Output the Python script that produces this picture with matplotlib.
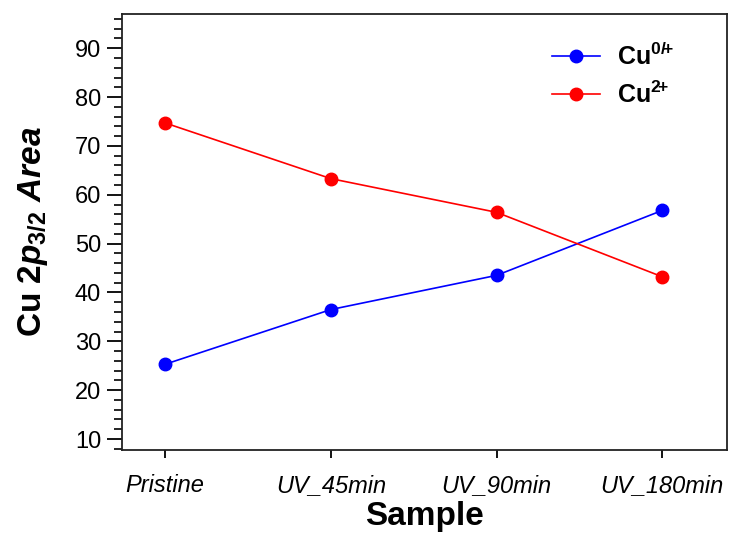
import matplotlib.pyplot as plt
from matplotlib.ticker import MultipleLocator

plt.rcParams['font.family'] = 'Liberation Sans'
plt.rcParams['mathtext.fontset'] = 'custom'
plt.rcParams['mathtext.rm'] = 'Liberation Sans:bold'
plt.rcParams['mathtext.it'] = 'Liberation Sans:bold:italic'
plt.rcParams['mathtext.bf'] = 'Liberation Sans:bold'

samples = ['Pristine', 'UV_45min', 'UV_90min', 'UV_180min']
cu_0 = [25.3, 36.5, 43.5, 56.8]
cu_2 = [74.7, 63.3, 56.4, 43.2]

fig = plt.figure(figsize=(7.39, 5.33), dpi=100)
ax = fig.add_axes([122/739, 1 - 450/533, 605/739, 436/533])

x = range(len(samples))
ax.plot(x, cu_0, color='blue', marker='o', markersize=9, lw=1.2,
        label=r'Cu$^{\mathbf{0/}\!\mathbf{+}}$')
ax.plot(x, cu_2, color='red', marker='o', markersize=9, lw=1.2,
        label=r'Cu$^{\mathbf{2}\!\mathbf{+}}$')

ax.set_xlim(-0.26, 3.39)
ax.set_ylim(7.75, 97)
ax.set_xticks(list(x))
ax.set_xticklabels(samples, style='italic', fontsize=17)
ax.yaxis.set_minor_locator(MultipleLocator(2))
ax.set_yticks(range(10, 100, 10))
ax.tick_params(axis='y', which='major', labelsize=17, length=11, width=1.3, direction='out', pad=4)
ax.tick_params(axis='y', which='minor', length=6, width=1.2, direction='out')
ax.tick_params(axis='x', which='major', length=5.5, width=1.3, direction='out', pad=12)
for s in ax.spines.values():
    s.set_linewidth(1.3)
    s.set_color('#222222')

ax.set_xlabel('Sample', fontsize=24, fontweight='bold', labelpad=3)
ax.set_ylabel(r'Cu 2$p_{3/2}$ $Area$', fontsize=24, fontweight='bold', labelpad=18)

leg = ax.legend(loc='upper right', bbox_to_anchor=(0.95, 0.985), frameon=False,
                prop={'weight': 'bold', 'size': 18}, handlelength=1.9, labelspacing=0.45,
                handletextpad=0.7)

fig.savefig('out.png', dpi=100)
